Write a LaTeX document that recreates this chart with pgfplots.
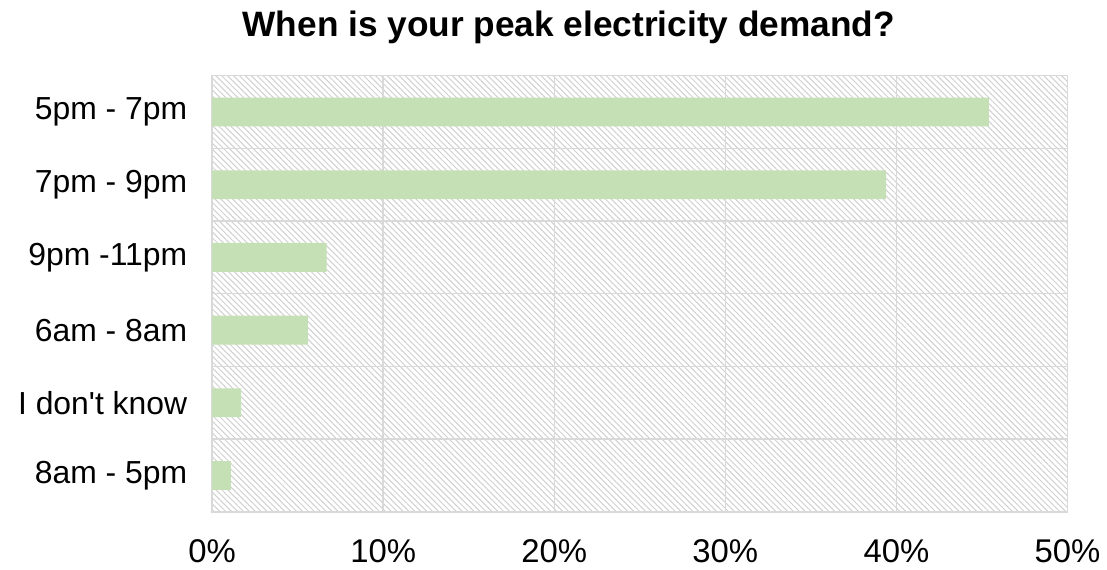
\documentclass[border=0pt]{standalone}
\usepackage{pgfplots}
\pgfplotsset{compat=1.18}
\usepackage{fontspec}
\setmainfont{Liberation Sans}
\usetikzlibrary{patterns.meta}
\definecolor{bargreen}{HTML}{C5E0B4}
\definecolor{gridgray}{HTML}{D9D9D9}
\definecolor{hatchgray}{HTML}{D0D0D0}

\begin{document}
\begin{tikzpicture}
\begin{axis}[
  scale only axis, width=429.5pt, height=219pt,
  xmin=0, xmax=50, ymin=-0.5, ymax=5.5,
  xbar, bar width=14.5pt,
  xtick={0,10,...,50},
  /pgf/number format/assume math mode=true,
  xticklabel={\pgfmathprintnumber{\tick}\%},
  ytick={0,...,5},
  yticklabels={8am - 5pm, I don\textquotesingle t know, 6am - 8am, 9pm -11pm, 7pm - 9pm, 5pm - 7pm},
  minor ytick={0.5,1.5,...,4.5},
  xmajorgrids, yminorgrids,
  grid style={gridgray, line width=0.75pt},
  minor grid style={gridgray, line width=0.75pt},
  axis line style={gridgray, line width=0.75pt},
  major tick length=0pt, minor tick length=0pt,
  tick label style={font=\fontsize{16}{19}\selectfont},
  xticklabel style={yshift=-10.5pt, font=\fontsize{16.5}{19}\selectfont},
  yticklabel style={xshift=-9pt},
  axis background/.style={pattern={Lines[angle=-45,distance=2.1pt,line width=0.5pt]}, pattern color=hatchgray},
  clip=false,
]
% share of respondents per time window
\addplot[fill=bargreen, draw=none] coordinates {(1.1,0) (1.7,1) (5.6,2) (6.7,3) (39.4,4) (45.4,5)};
\node[font=\bfseries\fontsize{17.7}{21}\selectfont] at (rel axis cs:0.417,1) [yshift=24pt] {When is your peak electricity demand?};
\end{axis}
\path (current axis.south west) ++(-106.5pt,-26.5pt) rectangle ([shift={(17.5pt,38pt)}]current axis.north east);
\end{tikzpicture}
\end{document}
